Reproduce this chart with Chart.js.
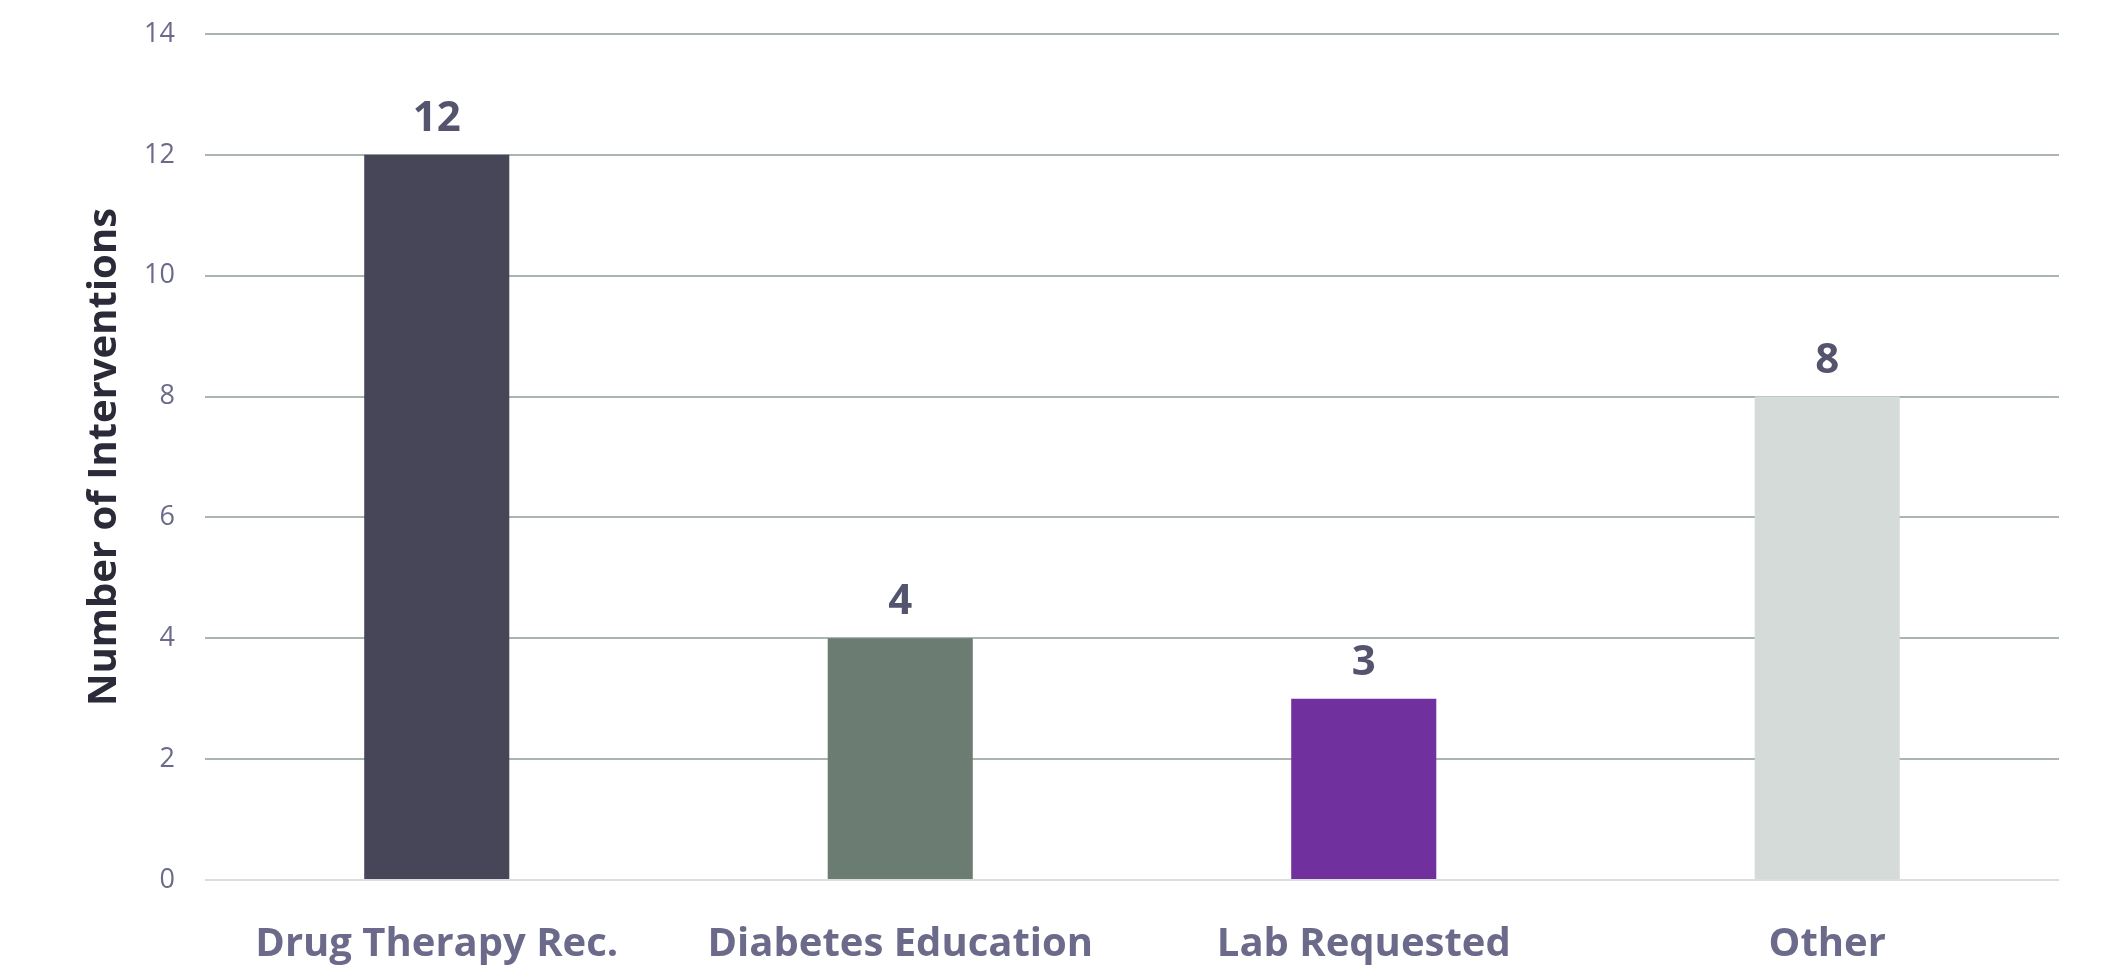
<!DOCTYPE html>
<html>
<head>
<meta charset="utf-8">
<script src="https://cdn.jsdelivr.net/npm/chart.js@4"></script>
<style>
  html, body { margin: 0; padding: 0; background: #fff; }
  #wrap { width: 2110px; height: 976px; }
</style>
</head>
<body>
<div id="wrap"><canvas id="chart" width="2110" height="976"></canvas></div>
<script>
// Data
const categories = ['Drug Therapy Rec.', 'Diabetes Education', 'Lab Requested', 'Other'];
const interventions = [12, 4, 3, 8];
const barColors = ['#474658', '#6b7d72', '#70309d', '#d5dbd8'];
const yTicks = [0, 2, 4, 6, 8, 10, 12, 14];

const FONT = "'Open Sans', sans-serif";

// Value labels above each bar
const valueLabels = {
    id: 'valueLabels',
    afterDatasetsDraw(chart) {
        const { ctx } = chart;
        const meta = chart.getDatasetMeta(0);
        ctx.save();
        ctx.font = `700 42px ${FONT}`;
        ctx.fillStyle = '#55546e';
        ctx.textAlign = 'center';
        ctx.textBaseline = 'alphabetic';
        meta.data.forEach((bar, i) => {
            ctx.fillText(String(interventions[i]), bar.x, bar.y - 24);
        });
        ctx.restore();
    }
};

new Chart(document.getElementById('chart'), {
    type: 'bar',
    data: {
        labels: categories,
        datasets: [{
            data: interventions,
            backgroundColor: barColors,
            borderWidth: 0,
            categoryPercentage: 1,
            barPercentage: 0.313
        }]
    },
    options: {
        responsive: false,
        animation: false,
        layout: { padding: { top: 34, right: 51, left: 0, bottom: 0 } },
        plugins: {
            legend: { display: false },
            tooltip: { enabled: false }
        },
        scales: {
            x: {
                grid: { display: false },
                border: { display: false },
                ticks: {
                    color: '#6b6a8a',
                    padding: 33,
                    font: { family: FONT, size: 40, weight: '700' },
                    maxRotation: 0
                },
                afterFit(scale) {
                    scale.height = 96;
                    scale.paddingLeft = 0;
                    scale.paddingRight = 0;
                }
            },
            y: {
                min: 0,
                max: 14,
                afterBuildTicks(scale) {
                    scale.ticks = yTicks.map(v => ({ value: v }));
                },
                border: { display: false },
                grid: {
                    drawTicks: false,
                    lineWidth: 2,
                    color: ctx => ctx.index === 0 ? '#dcdce3' : '#a9b5ae'
                },
                ticks: {
                    color: '#6b6a8a',
                    padding: 30,
                    font: { family: FONT, size: 27 }
                },
                title: {
                    display: true,
                    text: 'Number of Interventions',
                    color: '#2b2a38',
                    font: { family: FONT, size: 40, weight: '700' },
                    padding: { top: 81, bottom: 0 }
                },
                afterFit(scale) {
                    scale.width = 205;
                    scale.paddingTop = 0;
                    scale.paddingBottom = 0;
                }
            }
        }
    },
    plugins: [valueLabels]
});
</script>
</body>
</html>
